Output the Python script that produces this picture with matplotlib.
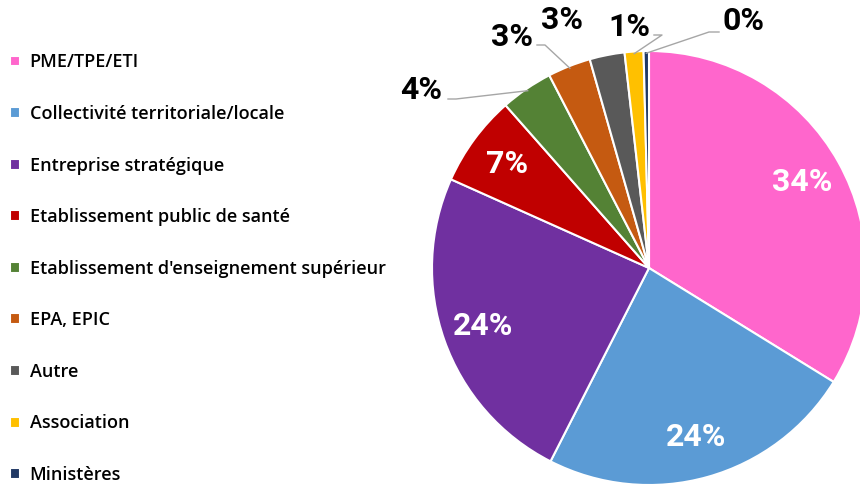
import numpy as np
import matplotlib
matplotlib.use("Agg")
import matplotlib.pyplot as plt

plt.rcParams['font.family'] = ['Roboto', 'DejaVu Sans']

categories = ["PME/TPE/ETI", "Collectivité territoriale/locale", "Entreprise stratégique",
              "Etablissement public de santé", "Etablissement d'enseignement supérieur",
              "EPA, EPIC", "Autre", "Association", "Ministères"]
shares = [33.8, 23.7, 24.2, 6.8, 3.9, 3.2, 2.6, 1.4, 0.4]
colors = ["#FF66CC", "#5B9BD5", "#7030A0", "#C00000", "#548235",
          "#C55A11", "#595959", "#FFC000", "#203864"]

# outside label positions (pixels, top-left origin) for the small slices
outside_pos = {4: (421, 90), 5: (512, 37), 6: (562, 20), 7: (629, 27), 8: (744, 21)}

W, H = 860, 486
cx, cy, r = 649, 268, 217

def fy(y):
    return H - y

fig = plt.figure(figsize=(8.6, 4.86), dpi=100)
ax = fig.add_axes([0, 0, 1, 1])
wedges, _ = ax.pie(shares, colors=colors, startangle=90, counterclock=False,
                   center=(cx, fy(cy)), radius=r,
                   wedgeprops=dict(edgecolor="white", linewidth=1.5))
ax.set_xlim(0, W)
ax.set_ylim(0, H)
ax.set_aspect("equal")
ax.axis("off")

for i, w in enumerate(wedges):
    mid = np.deg2rad((w.theta1 + w.theta2) / 2)
    lab = "%d%%" % round(shares[i])
    if i < 4:
        x = cx + 0.81 * r * np.cos(mid)
        y = fy(cy) + 0.81 * r * np.sin(mid)
        ax.text(x, y, lab, color="white", fontsize=23, fontweight="bold",
                ha="center", va="center")
    else:
        tx, ty = outside_pos[i]
        ex = cx + r * 0.99 * np.cos(mid)
        ey = fy(cy) + r * 0.99 * np.sin(mid)
        ax.text(tx, fy(ty), lab, color="black", fontsize=23, fontweight="bold",
                ha="center", va="center")
        if i == 6:
            continue
        if i == 4:
            sx, sy = tx + 27, fy(ty) - 9
        elif i == 8:
            sx, sy = tx - 25, fy(ty) - 11
        else:
            sx, sy = tx + 25, fy(ty) - 8
        ax.plot([sx, sx + (8 if i != 8 else -10), ex], [sy, sy, ey],
                color="#A6A6A6", linewidth=1)

fig.legend(wedges, categories, loc="upper left", bbox_to_anchor=(0.003, 0.905),
           frameon=False, handlelength=0.55, handleheight=0.55,
           prop=dict(family="Open Sans", size=13, weight="semibold"),
           handletextpad=0.55, labelspacing=1.86, borderaxespad=0)

fig.savefig("out.png", dpi=100)
